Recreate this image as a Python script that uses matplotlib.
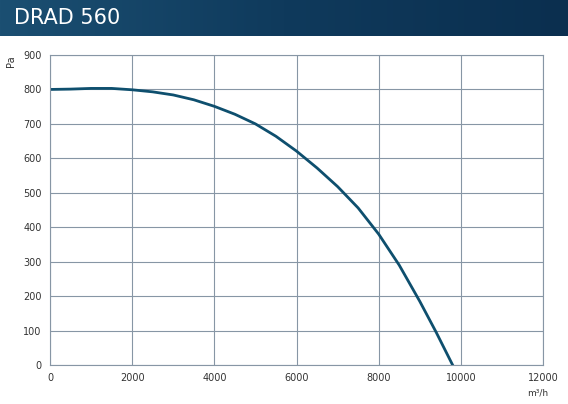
import matplotlib
matplotlib.use("Agg")
import matplotlib.pyplot as plt
import numpy as np
from matplotlib.colors import LinearSegmentedColormap

flow = [0, 500, 1000, 1500, 2000, 2500, 3000, 3500, 4000, 4500, 5000, 5500, 6000,
        6500, 7000, 7500, 8000, 8500, 9000, 9400, 9800]
pressure = [800, 801, 803, 803, 799, 793, 784, 770, 751, 728, 700, 664, 621,
            572, 518, 456, 380, 290, 185, 95, 0]
xticks = [0, 2000, 4000, 6000, 8000, 10000, 12000]
yticks = list(range(0, 1000, 100))

fig = plt.figure(figsize=(5.68, 4.04), dpi=100)
hax = fig.add_axes([0, 1 - 36/404, 1, 36/404])
grad = np.linspace(0, 1, 256).reshape(1, -1)
cm = LinearSegmentedColormap.from_list("h", ["#1b4f72", "#0f3a5c", "#0b2f4f"])
hax.imshow(grad, aspect="auto", cmap=cm, extent=[0, 1, 0, 1])
hax.set_axis_off()
hax.text(0.025, 0.5, "DRAD 560", color="white", fontsize=15, va="center", ha="left")

ax = fig.add_axes([50/568, 1 - 365/404, 493/568, 310/404])
ax.plot(flow, pressure, color="#0e4f6e", lw=2)
ax.set_xlim(0, 12000)
ax.set_ylim(0, 900)
ax.set_xticks(xticks)
ax.set_yticks(yticks)
ax.grid(True, color="#8796a5", lw=0.8)
for s in ax.spines.values():
    s.set_color("#8796a5"); s.set_linewidth(0.8)
ax.tick_params(length=0, labelsize=7, colors="#333333", pad=6)
ax.text(-0.09, 1.0, "Pa", transform=ax.transAxes, rotation=90, fontsize=7, va="top", color="#333333")
ax.text(1.01, -0.075, "m³/h", transform=ax.transAxes, fontsize=6.5, ha="right", va="top", color="#333333")
fig.savefig("out.png", dpi=100)
